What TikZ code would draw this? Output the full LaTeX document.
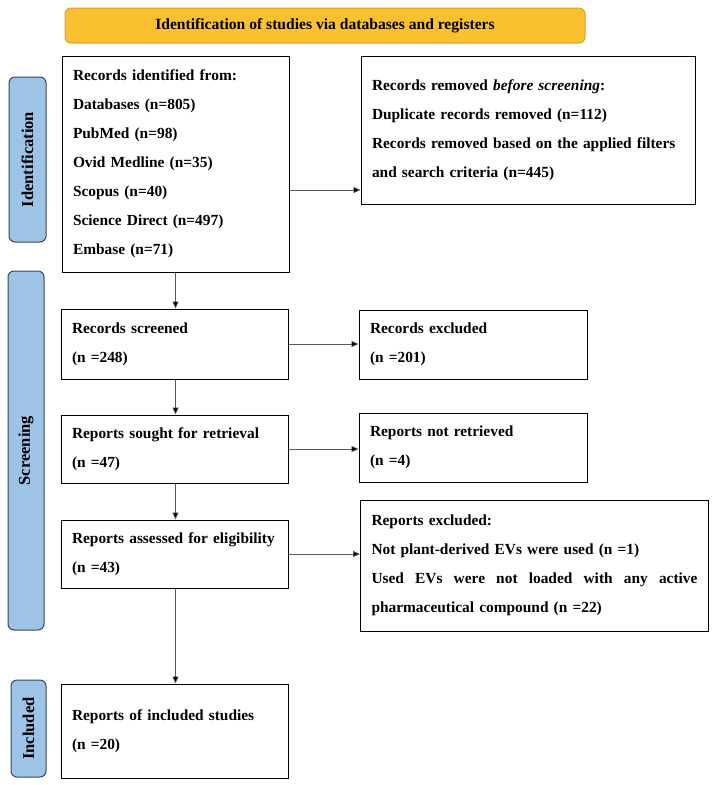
\documentclass[tikz,border=0pt]{standalone}
\usepackage{fontspec}
\setmainfont{Liberation Serif}
\usetikzlibrary{arrows.meta}
\definecolor{bannerfill}{HTML}{FBC02F}
\definecolor{bannerdraw}{HTML}{D9A033}
\definecolor{sidefill}{HTML}{9DC3E6}
\definecolor{sidedraw}{HTML}{34475C}
\newcommand{\hf}{\hspace{0pt plus 1fill}}
\begin{document}
\begin{tikzpicture}[x=1pt,y=-1pt,
  boxfont/.style={font=\fontsize{15.4}{29}\selectfont\bfseries},
  flowbox/.style={draw=black, line width=1pt, rectangle, boxfont, align=left,
    inner xsep=11pt, inner ysep=0pt},
  sidebox/.style={draw=sidedraw, fill=sidefill, line width=1pt, rounded corners=6pt,
    rotate=90, inner sep=0pt, font=\fontsize{16.5}{18}\selectfont\bfseries},
  arr/.style={draw=black!65, line width=0.7pt, -{Triangle[length=7pt,width=6pt,fill=black]}}
]
\useasboundingbox (0,0) rectangle (716,785);

% banner
\node[draw=bannerdraw, fill=bannerfill, line width=1pt, rounded corners=6pt,
  minimum width=520pt, minimum height=35pt, inner sep=0pt,
  font=\fontsize{15.6}{18}\selectfont\bfseries] (banner) at (325,25.5)
  {Identification of studies via databases and registers};

% side labels
\node[sidebox, minimum width=165pt, minimum height=37pt] (lid) at (27.5,159.5) {Identification};
\node[sidebox, minimum width=359pt, minimum height=36pt] (lscr) at (26,450.5) {Screening};
\node[sidebox, minimum width=97pt, minimum height=35pt] (linc) at (28.5,728.5) {Included};

% left column
\node[flowbox, text width=205pt, minimum height=216pt] (id1) at (175.5,164)
  {Records identified from:\\ Databases (n=805)\\ PubMed (n=98)\\ Ovid Medline (n=35)\\
   Scopus (n=40)\\ Science Direct (n=497)\\ Embase (n=71)};
\node[flowbox, text width=205pt, minimum height=70pt] (scr) at (174.5,344)
  {Records screened\\ (n =248)};
\node[flowbox, text width=205pt, minimum height=68pt] (sought) at (174.5,449)
  {Reports sought for retrieval\\ (n =47)};
\node[flowbox, text width=205pt, minimum height=68pt] (elig) at (174.5,554)
  {Reports assessed for eligibility\\ (n =43)};
\node[flowbox, text width=205pt, minimum height=94pt] (incl) at (174.5,731)
  {Reports of included studies\\ (n =20)};

% right column
\node[flowbox, text width=312pt, minimum height=148pt] (rem) at (528,130)
  {Records removed \textit{before screening}:\\ Duplicate records removed (n=112)\\
   Records removed based on the applied filters\\ and search criteria (n=445)};
\node[flowbox, text width=206pt, minimum height=69pt] (exc) at (473,344.5)
  {Records excluded\\ (n =201)};
\node[flowbox, text width=206pt, minimum height=69pt] (notret) at (473,447.5)
  {Reports not retrieved\\ (n =4)};
\node[flowbox, text width=326pt, minimum height=131pt] (rexc) at (534.5,565.5)
  {Reports excluded:\\ Not plant-derived EVs were used (n =1)\\
   \makebox[326pt][l]{Used\hf{} EVs\hf{} were\hf{} not\hf{} loaded\hf{} with\hf{} any\hf{} active}\\
   pharmaceutical compound (n =22)};

% connectors
\draw[arr] (id1.south) -- (scr.north -| id1.south);
\draw[arr] (scr.south -| id1.south) -- (sought.north -| id1.south);
\draw[arr] (sought.south -| id1.south) -- (elig.north -| id1.south);
\draw[arr] (elig.south -| id1.south) -- (incl.north -| id1.south);
\coordinate (a1) at ([yshift=-26pt]id1.east);
\draw[arr] (a1) -- (rem.west |- a1);
\draw[arr] (scr.east) -- (exc.west |- scr.east);
\draw[arr] (sought.east) -- (notret.west |- sought.east);
\draw[arr] (elig.east) -- (rexc.west |- elig.east);
\end{tikzpicture}
\end{document}
